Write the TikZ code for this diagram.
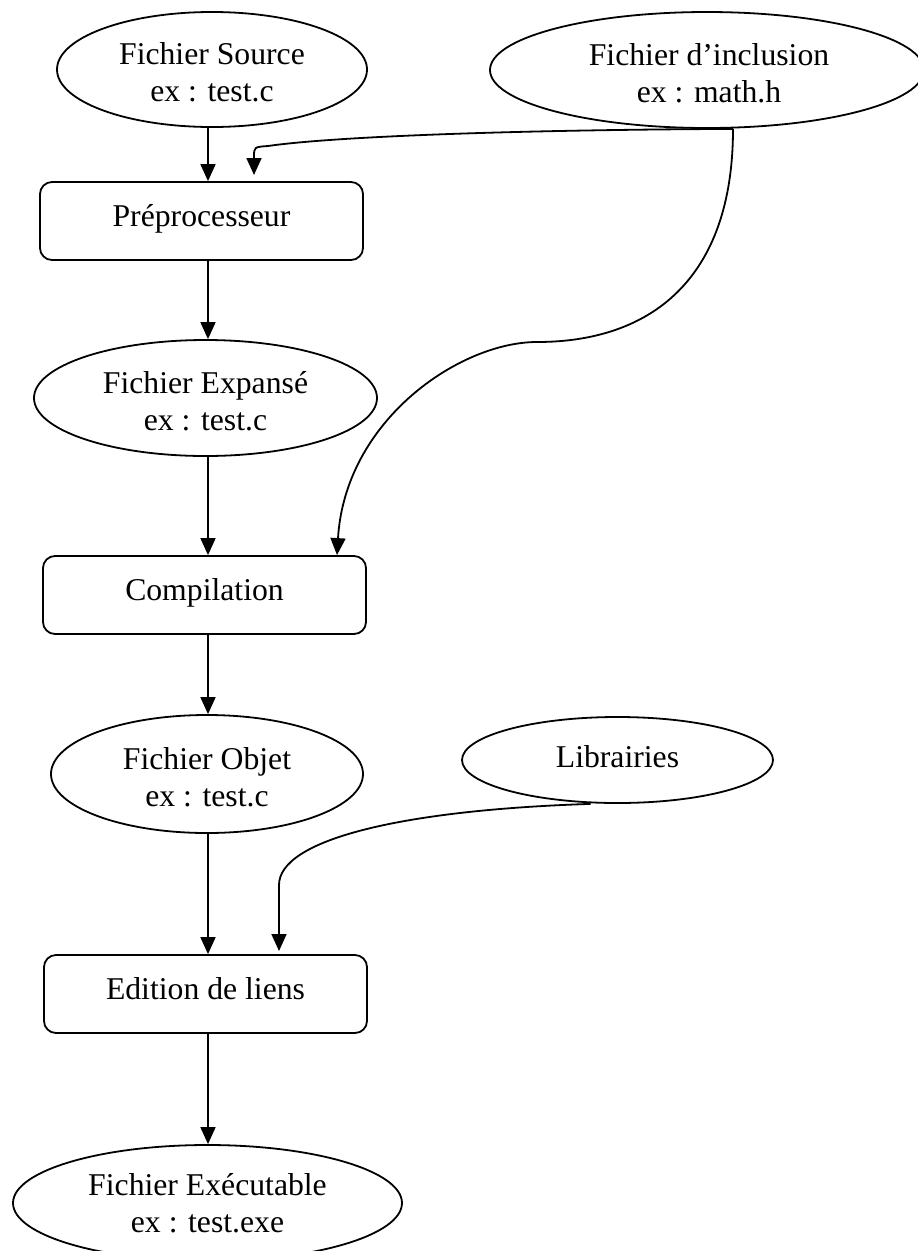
\documentclass[tikz,border=0pt]{standalone}
\usepackage{fontspec}
\setmainfont{Liberation Serif}
\usetikzlibrary{shapes.geometric,arrows.meta,calc}
\begin{document}
\begin{tikzpicture}[x=1pt,y=1pt,
  line width=1.8pt,
  ell/.style={draw, ellipse, inner sep=0pt},
  rbox/.style={draw, rounded corners=12pt, minimum width=323pt, minimum height=78pt,
    inner sep=0pt, text height=21pt, text depth=11pt, font=\fontsize{31.7}{37}\selectfont},
  lbl/.style={align=center, inner sep=0pt, font=\fontsize{31.7}{37}\selectfont},
  arr/.style={-{Triangle[length=17pt,width=15pt]}},
]
\useasboundingbox (0,0) rectangle (918,-1251);

% shapes
\node[ell, minimum width=310pt, minimum height=115pt] (src) at (212,-69.5) {};
\node[lbl] (srcT) at ([yshift=-3pt]src.center) {Fichier Source\\ex : test.c};

\node[ell, minimum width=434pt, minimum height=116pt] (incl) at (707,-70) {};
\node[lbl] (inclT) at ([xshift=2pt,yshift=-3pt]incl.center) {Fichier d’inclusion\\ex : math.h};

\node[rbox] (pre) at (201.5,-221) {Préprocesseur};

\node[ell, minimum width=343pt, minimum height=116pt] (exp) at (205.5,-398) {};
\node[lbl] (expT) at ([yshift=-3pt]exp.center) {Fichier Expansé\\ex : test.c};

\node[rbox] (comp) at (204.5,-595) {Compilation};

\node[ell, minimum width=312pt, minimum height=118pt] (obj) at (207,-774) {};
\node[lbl] (objT) at ([yshift=-3pt]obj.center) {Fichier Objet\\ex : test.c};

\node[ell, minimum width=311pt, minimum height=86pt] (lib) at (617.5,-760) {};
\node[lbl] (libT) at ([yshift=3pt]lib.center) {Librairies};

\node[rbox] (edit) at (205.5,-994) {Edition de liens};

\node[ell, minimum width=389pt, minimum height=116pt] (exe) at (207.5,-1203) {};
\node[lbl] (exeT) at (exe.center) {Fichier Exécutable\\ex : test.exe};

% connectors
\coordinate (colx) at (208,0);
\coordinate (preIn) at (254,-175);
\coordinate (editIn) at (279,-951);

\draw[arr] (src.south -| colx) -- (pre.north -| colx);
\draw[arr] (pre.south -| colx) -- (exp.north -| colx);
\draw[arr] (exp.south -| colx) -- (comp.north -| colx);
\draw[arr] (comp.south -| colx) -- (obj.north -| colx);
\draw[arr] (obj.south -| colx) -- (edit.north -| colx);
\draw[arr] (edit.south -| colx) -- (exe.north -| colx);

\draw[arr] ($(incl.south)+(26,0)$) .. controls (500,-130) and (330,-137) .. (268,-146)
  .. controls (254,-147) .. (254,-157) -- (preIn);

\draw[arr] ($(incl.south)+(26,0)$) .. controls (733,-280) and (650,-342) .. (537,-342)
  .. controls (460,-342) and (345,-420) .. ($(comp.north)+(132.5,0)$);

\draw[arr] ($(lib.south)+(-27,0)$) .. controls (400,-810) and (279,-840) .. (279,-885)
  -- (editIn);
\end{tikzpicture}
\end{document}
